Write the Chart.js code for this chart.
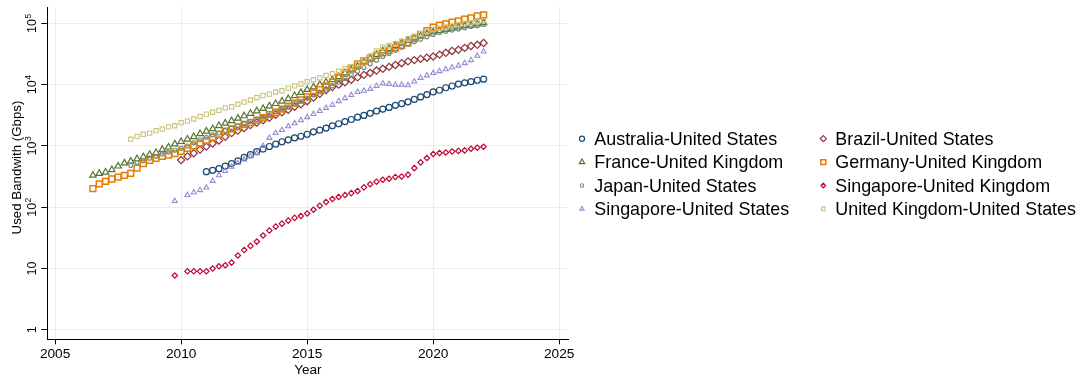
<!DOCTYPE html>
<html>
<head>
<meta charset="utf-8">
<script src="https://cdn.jsdelivr.net/npm/chart.js@4.4.1/dist/chart.umd.min.js"></script>
<style>
  html, body { margin: 0; padding: 0; background: #ffffff; }
  canvas { display: block; }
</style>
</head>
<body>
<canvas id="bw" width="1083" height="379"></canvas>
<script>
// Used bandwidth on international routes, quarterly observations (Gbps)
const FONT = '"Liberation Sans", Arial, Helvetica, sans-serif';

const seriesNames = [
  'Australia-United States', 'Brazil-United States',
  'France-United Kingdom', 'Germany-United Kingdom',
  'Japan-United States', 'Singapore-United Kingdom',
  'Singapore-United States', 'United Kingdom-United States'
];

// first quarter of each series (decimal year); one value per quarter, null = no observation
const startYears = [2011.0, 2010.0, 2006.5, 2006.5, 2008.0, 2009.75, 2009.75, 2008.0];

const australiaUS = [380, 400, 425, 470, 515, 570, 650, 720, 810, 890, 980, 1070, 1170, 1260, 1350, 1440,
  1550, 1700, 1810, 1960, 2130, 2300, 2500, 2700, 2950, 3150, 3400, 3700, 4000, 4250, 4600, 4900,
  5250, 5750, 6300, 6900, 7600, 8100, 8900, 9500, 10200, 10700, 11200, 11800, 12300];

const brazilUS = [589, 676, 759, 871, 977, 1096, 1230, 1413, 1622, 1778, 1950, 2188, 2399, 2630, 2884, 3236,
  3548, 3890, 4365, 4786, 5370, 6166, 7079, 8128, 9120, 10000, 10960, 12020, 13180, 14450, 15490, 16980,
  18200, 19500, 20890, 22390, 23990, 25120, 26300, 27540, 28840, 30900, 33110, 35480, 37150, 39810, 42660,
  44670, 47860];

const franceUK = [331, 355, 372, 407, 468, 525, 562, 617, 661, 724, 776, 871, 955, 1072, 1175, 1288,
  1413, 1585, 1738, 1905, 2138, 2344, 2570, 2818, 3090, 3388, 3715, 4074, 4467, 4898, 5370, 5888,
  6607, 7413, 8318, 9120, 10000, 10960, 12020, 13490, 15490, 17380, 19950, 23440, 26920, 30900, 35480,
  38900, 43650, 47860, 52480, 57540, 61660, 67610, 72440, 75860, 79430, 83180, 87100, 91200, 93330,
  97720, 102300];

const germanyUK = [201, 240, 264, 289, 311, 331, 357, 436, 513, 581, 626, 675, 711, 747, 814,
  912, 1000, 1122, 1230, 1380, 1549, 1738, 1905, 2042, 2239, 2399, 2630, 2884, 3236, 3548, 3981,
  4467, 5012, 5623, 6310, 7244, 8318, 9550, 10960, 13180, 15490, 18620, 21880, 24550, 26920, 30200,
  33110, 36310, 39810, 43650, 47860, 56230, 66070, 75860, 87100, 93330, 97720, 104700, 109600, 117500,
  123000, 131800, 138000];

const japanUS = [479, 537, 575, 631, 676, 741, 794, 851, 912, 1000, 1122, 1259, 1380, 1514, 1622, 1778,
  1950, 2138, 2291, 2512, 2692, 2951, 3236, 3631, 3981, 4365, 4898, 5370, 6026, 6761, 7586, 8511,
  9550, 10960, 12590, 14450, 16600, 19050, 21880, 25120, 28840, 32360, 36310, 40740, 45710, 50120,
  54950, 60260, 66070, 70790, 74130, 77620, 81280, 85110, 89130, 91200, 95500];

const singaporeUK = [7.7, null, 9.0, 9.0, 9.0, 9.0, 10, 10.9, 11.3, 12.5, 16.3, 20, 23.4, 27.5, 34.6, 41.6,
  48.3, 54, 60.5, 67, 72, 79, 91, 106, 122, 136, 147, 158, 170, 184, 211, 237, 261, 281, 292, 312,
  318, 340, 435, 539, 635, 740, 766, 783, 812, 830, 845, 900, 935, 970];

const singaporeUS = [126, null, 158, 174, 190, 209, 269, 331, 389, 457, 525, 603, 676, 759, 1000, 1349,
  1622, 1820, 2089, 2344, 2630, 2951, 3311, 3715, 4169, 4677, 5370, 6026, 6761, 7586, 7943, 8511,
  9550, 10470, 10230, 10000, 10000, 9772, 11220, 12880, 14130, 15490, 16600, 17780, 19050, 20420,
  22390, 25120, 29510, 34670];

const ukUS = [1288, 1429, 1549, 1622, 1778, 1884, 2042, 2138, 2399, 2541, 2754, 3020, 3311, 3548, 3802,
  4169, 4365, 4786, 5188, 5623, 6166, 6607, 7000, 7586, 7943, 8710, 9550, 10230, 11220,
  12020, 12880, 14130, 15140, 16600, 18200, 19500, 21880, 25120, 29510, 35480, 40740, 43650, 46770,
  51290, 56230, 61660, 67610, 74130, 79430, 83180, 87100, 91200, 95500, 100000, 102300, 107200, 112200];

const seriesValues = [australiaUS, brazilUS, franceUK, germanyUK, japanUS, singaporeUK, singaporeUS, ukUS];

const xTicks = [2005, 2010, 2015, 2020, 2025];
const yTicks = [1, 10, 100, 1000, 10000, 100000];

// marker look per series: palette navy, maroon, forest green, dark orange, teal, cranberry, lavender, khaki
const markerStyles = [
  { color: '#1a476f', shape: 'circle',   r: 3.0, lw: 1.2 },
  { color: '#90353b', shape: 'rectRot',  r: 3.6, lw: 1.2 },
  { color: '#55752f', shape: 'triangle', r: 3.7, lw: 1.2 },
  { color: '#e37e00', shape: 'rect',     r: 4.1, lw: 1.5 },
  { color: '#6e8e84', shape: 'circle',   r: 2.0, lw: 1.1 },
  { color: '#c10534', shape: 'rectRot',  r: 2.7, lw: 1.2 },
  { color: '#938dd2', shape: 'triangle', r: 2.9, lw: 1.1 },
  { color: '#cac27e', shape: 'rect',     r: 3.0, lw: 1.1 }
];

const datasets = seriesNames.map((name, i) => {
  const st = markerStyles[i];
  return {
    label: name,
    data: seriesValues[i].map((v, k) => ({ x: startYears[i] + k * 0.25, y: v })).filter(p => p.y !== null),
    pointStyle: st.shape,
    pointRadius: st.r,
    pointBorderWidth: st.lw,
    pointBorderColor: st.color,
    pointBackgroundColor: 'rgba(255,255,255,0)',
    showLine: false,
    order: seriesNames.length - i
  };
});

// hollow marker used in the key
function drawKeyMarker(ctx, shape, x, y, r, color, lw) {
  ctx.save();
  ctx.strokeStyle = color;
  ctx.lineWidth = lw;
  ctx.beginPath();
  if (shape === 'circle') {
    ctx.arc(x, y, r, 0, Math.PI * 2);
  } else if (shape === 'rect') {
    const s = r * Math.SQRT1_2;
    ctx.rect(x - s, y - s, 2 * s, 2 * s);
  } else if (shape === 'rectRot') {
    ctx.moveTo(x - r, y); ctx.lineTo(x, y - r); ctx.lineTo(x + r, y); ctx.lineTo(x, y + r);
    ctx.closePath();
  } else if (shape === 'triangle') {
    const h = r * 0.866;
    ctx.moveTo(x, y - r); ctx.lineTo(x + h, y + r / 2); ctx.lineTo(x - h, y + r / 2);
    ctx.closePath();
  }
  ctx.stroke();
  ctx.restore();
}

const annotations = {
  id: 'annotations',
  afterDraw(chart) {
    const { ctx, scales } = chart;
    const y = scales.y;
    ctx.save();
    ctx.fillStyle = '#000';

    // y tick labels: powers of ten written vertically
    yTicks.forEach(v => {
      const py = y.getPixelForValue(v);
      const k = Math.round(Math.log10(v));
      const base = k <= 1 ? String(v) : '10';
      const exp = k <= 1 ? '' : String(k);
      ctx.save();
      ctx.translate(35.5, py);
      ctx.rotate(-Math.PI / 2);
      ctx.textBaseline = 'alphabetic';
      ctx.textAlign = 'left';
      ctx.font = '12.5px ' + FONT;
      const wb = ctx.measureText(base).width;
      ctx.font = '8.5px ' + FONT;
      const we = exp ? ctx.measureText(exp).width + 0.5 : 0;
      const x0 = -(wb + we) / 2;
      ctx.font = '12.5px ' + FONT;
      ctx.fillText(base, x0, 0);
      if (exp) {
        ctx.font = '8.5px ' + FONT;
        ctx.fillText(exp, x0 + wb + 0.5, -5);
      }
      ctx.restore();
    });

    // axis titles
    ctx.save();
    ctx.translate(20.5, 167.5);
    ctx.rotate(-Math.PI / 2);
    ctx.textAlign = 'center';
    ctx.textBaseline = 'alphabetic';
    ctx.font = '13.3px ' + FONT;
    ctx.fillText('Used Bandwith (Gbps)', 0, 0);
    ctx.restore();

    ctx.textAlign = 'center';
    ctx.textBaseline = 'alphabetic';
    ctx.font = '13.5px ' + FONT;
    ctx.fillText('Year', (chart.chartArea.left + chart.chartArea.right) / 2, 374);

    // key in two columns
    const colMarkerX = [582, 823.3];
    const colTextX = [594.3, 835.3];
    const rowBase = [145, 168.4, 191.8, 215.2];
    ctx.font = '17.9px ' + FONT;
    ctx.textAlign = 'left';
    seriesNames.forEach((name, i) => {
      const col = i % 2, row = Math.floor(i / 2);
      const st = markerStyles[i];
      drawKeyMarker(ctx, st.shape, colMarkerX[col], rowBase[row] - 6.3, st.r * 0.85, st.color, st.lw);
      ctx.fillStyle = '#000';
      ctx.fillText(name, colTextX[col], rowBase[row]);
    });
    ctx.restore();
  }
};

new Chart(document.getElementById('bw'), {
  type: 'scatter',
  data: { datasets },
  options: {
    responsive: false,
    animation: false,
    devicePixelRatio: 1,
    layout: { padding: { left: 0, right: 514.7, top: 7, bottom: 0 } },
    plugins: { legend: { display: false }, tooltip: { enabled: false } },
    scales: {
      x: {
        type: 'linear',
        min: 2004.69,
        max: 2025.36,
        afterBuildTicks: s => { s.ticks = xTicks.map(v => ({ value: v })); },
        afterFit: s => { s.height = 39.7; },
        grid: { color: '#e6eff0', lineWidth: 1, tickColor: '#000', tickLength: 5, drawTicks: true },
        border: { display: true, color: '#000', width: 1 },
        ticks: { color: '#000', font: { family: FONT, size: 13.7 }, padding: 2, maxRotation: 0,
                 callback: v => String(v) }
      },
      y: {
        type: 'logarithmic',
        min: 0.716,
        max: 184900,
        afterBuildTicks: s => { s.ticks = yTicks.map(v => ({ value: v })); },
        afterFit: s => { s.width = 47.3; },
        grid: { color: '#e6eff0', lineWidth: 1, tickColor: '#000', tickLength: 6, drawTicks: true },
        border: { display: true, color: '#000', width: 1 },
        ticks: { display: false }
      }
    }
  },
  plugins: [annotations]
});
</script>
</body>
</html>
